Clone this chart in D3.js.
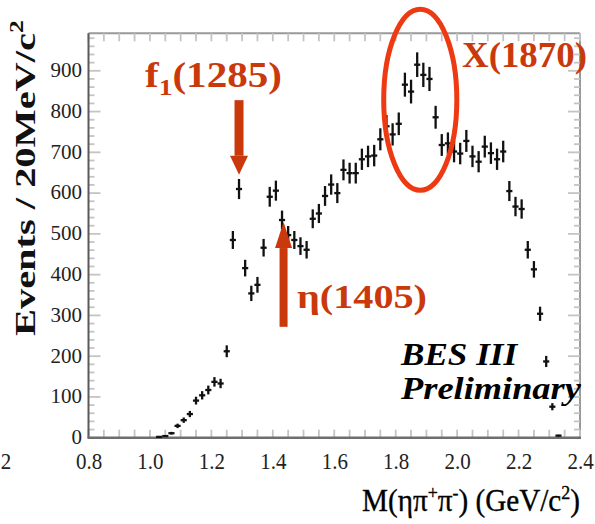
<!DOCTYPE html>
<html>
<head>
<meta charset="utf-8">
<script src="https://cdn.jsdelivr.net/npm/d3@7"></script>
<style>
  html, body { margin: 0; padding: 0; background: #fff; }
  svg { display: block; }
</style>
</head>
<body>
<svg id="chart" width="595" height="524"></svg>
<script>
// Invariant mass bin centres, GeV/c^2 (20 MeV bins)
const massBins = [
  1.03, 1.05, 1.07, 1.09, 1.11, 1.13, 1.15, 1.17, 1.19, 1.21, 1.23, 1.25,
  1.27, 1.29, 1.31, 1.33, 1.35, 1.37, 1.39, 1.41, 1.43, 1.45, 1.47, 1.49,
  1.51, 1.53, 1.55, 1.57, 1.59, 1.61, 1.63, 1.65, 1.67, 1.69, 1.71, 1.73,
  1.75, 1.77, 1.79, 1.81, 1.83, 1.85, 1.87, 1.89, 1.91, 1.93, 1.95, 1.97,
  1.99, 2.01, 2.03, 2.05, 2.07, 2.09, 2.11, 2.13, 2.15, 2.17, 2.19, 2.21,
  2.23, 2.25, 2.27, 2.29, 2.31, 2.33
];
// Events per bin
const eventCounts = [
  2, 4, 11, 29, 43, 58, 91, 104, 117, 137, 133, 212,
  485, 610, 416, 354, 375, 466, 591, 606, 534, 497, 485, 470,
  461, 537, 550, 593, 621, 600, 657, 649, 649, 683, 690, 692,
  732, 764, 744, 770, 866, 849, 915, 890, 880, 786, 718, 722,
  702, 697, 728, 690, 677, 714, 698, 683, 702, 605, 567, 561,
  461, 413, 304, 187, 76, 5
];
const binWidth = 0.02;

const xTickValues = [0.8, 1.0, 1.2, 1.4, 1.6, 1.8, 2.0, 2.2, 2.4];
const xTickLabels = ["0.8", "1.0", "1.2", "1.4", "1.6", "1.8", "2.0", "2.2", "2.4"];
const yTickValues = [0, 100, 200, 300, 400, 500, 600, 700, 800, 900];
const yTickLabels = ["0", "100", "200", "300", "400", "500", "600", "700", "800", "900"];

// Resonance annotations (mass, arrow tail count, arrow tip count)
const f1Arrow = { mass: 1.29, from: 828, to: 645 };
const etaArrow = { mass: 1.435, from: 272, to: 529 };
const xRegion = { mass: 1.88, count: 829, halfMass: 0.119, halfCount: 222 };

const svg = d3.select("#chart");

const x = d3.scaleLinear().domain([0.8, 2.4]).range([88.5, 580]);
const y = d3.scaleLinear().domain([0, 992]).range([437.7, 33.3]);

const serif = "'Liberation Serif', 'Times New Roman', serif";
const orange = "#c9390b";

// Frame (top and right)
svg.append("line").attr("x1", x(0.8)).attr("x2", x(2.4)).attr("y1", y(992)).attr("y2", y(992))
  .attr("stroke", "#999").attr("stroke-width", 2);
svg.append("line").attr("x1", x(2.4)).attr("x2", x(2.4)).attr("y1", y(992)).attr("y2", y(0))
  .attr("stroke", "#999").attr("stroke-width", 2);

// Inward ticks on all four sides
const tickColor = "#c4c4c4";
const xMinor = d3.range(0.8, 2.4001, 0.05);
const yMinor = d3.range(0, 992, 20);
const ticks = svg.append("g").attr("stroke", tickColor).attr("stroke-width", 1.8);
xMinor.forEach(v => {
  ticks.append("line").attr("x1", x(v)).attr("x2", x(v)).attr("y1", y(0)).attr("y2", y(0) - 8);
  ticks.append("line").attr("x1", x(v)).attr("x2", x(v)).attr("y1", y(992)).attr("y2", y(992) + 8);
});
yMinor.forEach(v => {
  const major = Math.abs(v % 100) < 1e-6;
  const len = major ? 12 : 6;
  ticks.append("line").attr("x1", x(0.8)).attr("x2", x(0.8) + len).attr("y1", y(v)).attr("y2", y(v));
  ticks.append("line").attr("x1", x(2.4)).attr("x2", x(2.4) - len).attr("y1", y(v)).attr("y2", y(v));
});

// Axis lines
svg.append("line").attr("x1", x(0.8)).attr("x2", x(0.8)).attr("y1", y(992)).attr("y2", y(0))
  .attr("stroke", "#5a5a5a").attr("stroke-width", 2);
svg.append("line").attr("x1", x(0.8) - 1).attr("x2", x(2.4) + 1).attr("y1", y(0)).attr("y2", y(0))
  .attr("stroke", "#6e6e6e").attr("stroke-width", 2.6);

// Tick labels
const xAxis = d3.axisBottom(x).tickValues(xTickValues)
  .tickFormat((d, i) => xTickLabels[i]).tickSize(0).tickPadding(0);
const gx = svg.append("g").attr("transform", `translate(0,${y(0)})`).call(xAxis);
gx.select(".domain").remove();
gx.selectAll("text")
  .attr("font-family", serif).attr("font-size", 21).attr("fill", "#222")
  .attr("y", 0).attr("dy", 0)
  .attr("transform", "translate(0,31.5) scale(1,1.12)");

const yAxis = d3.axisLeft(y).tickValues(yTickValues)
  .tickFormat((d, i) => yTickLabels[i]).tickSize(0).tickPadding(6.5);
const gy = svg.append("g").attr("transform", `translate(${x(0.8)},0)`).call(yAxis);
gy.select(".domain").remove();
gy.selectAll("text")
  .attr("font-family", serif).attr("font-size", 21).attr("fill", "#222")
  .attr("dy", "0.28em");

// Edge label of the neighbouring panel
svg.append("text").attr("x", 6).attr("y", 0)
  .attr("transform", "translate(0,469) scale(1,1.12)")
  .attr("text-anchor", "middle")
  .attr("font-family", serif).attr("font-size", 21).attr("fill", "#222").text("2");

// Data points with Poisson uncertainties
const pts = svg.append("g").attr("stroke", "#111").attr("stroke-width", 2.3);
massBins.forEach((m, i) => {
  const n = eventCounts[i];
  const e = Math.sqrt(n);
  pts.append("line").attr("x1", x(m)).attr("x2", x(m))
    .attr("y1", y(n - e)).attr("y2", y(n + e));
  pts.append("line").attr("x1", x(m - binWidth / 2)).attr("x2", x(m + binWidth / 2))
    .attr("y1", y(n)).attr("y2", y(n));
});

// Arrow: shaft plus triangular head
function arrow(cx, yFrom, yTo, shaftW, headW, headL) {
  const dir = yTo > yFrom ? 1 : -1;
  const yBase = yTo - dir * headL;
  svg.append("rect")
    .attr("x", cx - shaftW / 2).attr("width", shaftW)
    .attr("y", Math.min(yFrom, yBase)).attr("height", Math.abs(yBase - yFrom))
    .attr("fill", orange);
  svg.append("path")
    .attr("d", `M${cx - headW / 2},${yBase} L${cx + headW / 2},${yBase} L${cx},${yTo} Z`)
    .attr("fill", orange);
}
arrow(x(f1Arrow.mass), y(f1Arrow.from), y(f1Arrow.to), 9, 18, 19);
arrow(x(etaArrow.mass), y(etaArrow.from), y(etaArrow.to), 8, 17, 26);

// X(1870) region
svg.append("ellipse")
  .attr("cx", x(xRegion.mass)).attr("cy", y(xRegion.count))
  .attr("rx", x(xRegion.mass + xRegion.halfMass) - x(xRegion.mass))
  .attr("ry", y(xRegion.count - xRegion.halfCount) - y(xRegion.count))
  .attr("fill", "none").attr("stroke", "#ee3a12").attr("stroke-width", 5);

// Stretch a text horizontally so it spans [left, left + width]
function fit(t, left, baseline, width) {
  const w = t.node().getBBox().width;
  t.attr("x", 0).attr("y", 0).attr("text-anchor", "start")
    .attr("transform", `translate(${left},${baseline}) scale(${width / w},1)`);
  return t;
}

// Annotation labels
const f1 = svg.append("text").attr("font-family", serif).attr("font-weight", "bold")
  .attr("font-size", 36).attr("fill", orange);
f1.append("tspan").text("f");
f1.append("tspan").attr("font-size", 24).attr("dy", 8).text("1");
f1.append("tspan").attr("dy", -8).text("(1285)");
fit(f1, 145, 87, 137);

const eta = svg.append("text").attr("font-family", serif).attr("font-weight", "bold")
  .attr("font-size", 34).attr("fill", orange).text("η(1405)");
fit(eta, 297, 308, 130);

const xl = svg.append("text").attr("font-family", serif).attr("font-weight", "bold")
  .attr("font-size", 36).attr("fill", orange).text("X(1870)");
fit(xl, 462, 67, 125);

const bes = svg.append("text").attr("font-family", serif).attr("font-weight", "bold")
  .attr("font-style", "italic").attr("font-size", 32).attr("fill", "#000").text("BES III");
fit(bes, 401, 365, 119);
const prel = svg.append("text").attr("font-family", serif).attr("font-weight", "bold")
  .attr("font-style", "italic").attr("font-size", 32).attr("fill", "#000").text("Preliminary");
fit(prel, 401, 399, 182);

// Axis titles
const xt = svg.append("text").attr("font-family", serif).attr("font-size", 31).attr("fill", "#000")
  .attr("stroke", "#000").attr("stroke-width", 0.35);
xt.append("tspan").text("M(ηπ");
xt.append("tspan").attr("font-size", 19).attr("dy", -12).text("+");
xt.append("tspan").attr("dy", 12).text("π");
xt.append("tspan").attr("font-size", 19).attr("dy", -12).text("-");
xt.append("tspan").attr("dy", 12).text(") (GeV/c");
xt.append("tspan").attr("font-size", 19).attr("dy", -12).text("2");
xt.append("tspan").attr("dy", 12).text(")");
fit(xt, 362, 511, 218);

const yt = svg.append("text").attr("font-family", serif).attr("font-weight", "bold")
  .attr("font-size", 30).attr("fill", "#111");
const ytMain = yt.append("tspan").text("Events / 20MeV/c");
yt.append("tspan").attr("font-size", 19).attr("dy", -12).text("2");
const mainLen = ytMain.node().getComputedTextLength();
yt.attr("x", 0).attr("y", 0)
  .attr("transform", `translate(35,336) rotate(-90) scale(${303 / mainLen},1)`);
</script>
</body>
</html>
